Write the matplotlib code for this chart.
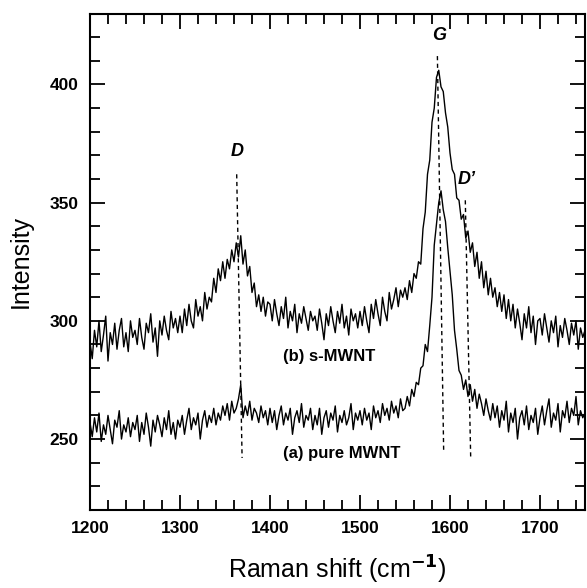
import numpy as np
import matplotlib.pyplot as plt
from matplotlib.ticker import MultipleLocator

# Raman spectra, sampled every 2.5 cm-1 from 1200 to 1750
shift = np.arange(1200, 1750.1, 2.5)

# (b) s-MWNT
smwnt = [
    291, 284, 296, 289, 300, 287, 294, 302, 283, 295, 290, 299, 288, 296, 301, 289, 295, 287, 300, 293,
    296, 290, 301, 293, 288, 299, 295, 303, 291, 297, 285, 300, 294, 302, 296, 292, 304, 297, 301, 295,
    302, 295, 305, 298, 307, 300, 297, 309, 302, 306, 300, 312, 305, 310, 308, 318, 312, 322, 317, 325,
    318, 326, 322, 330, 325, 333, 327, 336, 324, 330, 319, 323, 312, 316, 306, 311, 304, 310, 302, 308,
    307, 300, 309, 303, 298, 306, 301, 310, 297, 304, 300, 307, 295, 303, 299, 306, 301, 296, 304, 300,
    302, 296, 305, 299, 292, 303, 298, 306, 300, 295, 304, 299, 307, 297, 302, 294, 305, 300, 303, 297,
    304, 298, 306, 300, 295, 307, 301, 309, 303, 298, 310, 304, 300, 312, 305, 309, 314, 306, 313, 310,
    314, 309, 317, 312, 320, 318, 325, 324, 339, 346, 362, 368, 384, 390, 403, 406, 399, 397, 388, 382,
    371, 364, 362, 352, 351, 343, 345, 335, 338, 329, 333, 323, 329, 318, 325, 314, 321, 311, 318, 310,
    314, 306, 312, 304, 311, 301, 309, 300, 307, 297, 305, 299, 292, 303, 297, 306, 295, 302, 290, 300,
    301, 294, 303, 297, 291, 300, 295, 302, 289, 298, 293, 301, 296, 290, 299, 294, 300, 288, 297, 293,
    296,
]

# (a) pure MWNT
pmwnt = [
    257, 251, 259, 253, 261, 249, 256, 252, 260, 254, 248, 258, 255, 262, 250, 256, 253, 259, 251, 257,
    254, 260, 249, 257, 252, 261, 255, 247, 258, 253, 260, 256, 251, 259, 254, 262, 252, 257, 250, 258,
    255, 260, 252, 258, 263, 254, 259, 256, 261, 250, 258, 262, 255, 260, 257, 263, 256, 261, 258, 264,
    260, 265, 258, 266, 261, 263, 267, 273, 259, 264, 260, 266, 258, 263, 261, 257, 264, 259, 262, 256,
    263, 257, 262, 254, 260, 264, 256, 261, 258, 263, 252, 259, 262, 257, 265, 255, 260, 258, 263, 254,
    260, 256, 263, 252, 259, 262, 255, 261, 258, 264, 253, 260, 257, 262, 256, 259, 265, 254, 261, 258,
    262, 256, 263, 258, 261, 254, 264, 259, 262, 257, 265, 260, 263, 258, 266, 261, 264, 259, 267, 262,
    263, 268, 264, 271, 268, 274, 273, 280, 281, 290, 287, 298, 310, 332, 341, 350, 355, 347, 342, 331,
    321, 311, 296, 288, 279, 277, 271, 275, 268, 273, 266, 271, 263, 269, 265, 260, 267, 262, 258, 265,
    259, 264, 255, 262, 258, 266, 253, 261, 257, 263, 250, 259, 262, 256, 264, 254, 260, 257, 263, 252,
    259, 264, 256, 262, 267, 255, 261, 258, 265, 253, 262, 259, 266, 257, 263, 260, 268, 256, 262, 259,
    261,
]

# peak markers: label, label position, dashed line ends
peak_labels = ["D", "G", "D\u2019"]
label_xy = [(1363, 368), (1588, 417), (1619, 356)]
line_top = [(1363, 362), (1586, 412), (1617, 351)]
line_bot = [(1369, 242), (1593, 244), (1623, 242)]

plt.rcParams["font.family"] = ["Liberation Sans", "DejaVu Sans"]

fig = plt.figure(figsize=(5.87, 5.88), dpi=100)
ax = fig.add_axes([0.1533, 0.1327, 0.8433, 0.8443])

ax.plot(shift, smwnt, color="black", lw=1.0)
ax.plot(shift, pmwnt, color="black", lw=1.0)

#dashed guide lines and peak names
for lab, (tx, ty), (x0, y0), (x1, y1) in zip(peak_labels, label_xy, line_top, line_bot):
    ax.plot([x0, x1], [y0, y1], color="black", lw=1.0, ls=(0, (3, 2.5)))
    ax.text(tx, ty, lab, fontsize=13, fontweight="bold", fontstyle="italic",
            ha="center", va="bottom")

ax.text(1414, 285, "(b) s-MWNT", fontsize=12, fontweight="bold", va="center")
ax.text(1414, 244, "(a) pure MWNT", fontsize=12, fontweight="bold", va="center")

ax.set_xlim(1200, 1750)
ax.set_ylim(220, 430)
ax.xaxis.set_major_locator(MultipleLocator(100))
ax.xaxis.set_minor_locator(MultipleLocator(20))
ax.yaxis.set_major_locator(MultipleLocator(50))
ax.yaxis.set_minor_locator(MultipleLocator(10))
ax.tick_params(which="both", direction="in", top=True, right=True, width=1.3)
ax.tick_params(which="major", length=11, labelsize=12.5, pad=8)
ax.tick_params(which="minor", length=7)
for lbl in ax.get_xticklabels() + ax.get_yticklabels():
    lbl.set_fontweight("bold")
for sp in ax.spines.values():
    sp.set_linewidth(1.5)

ax.set_xlabel("Raman shift (cm$^{\\mathbf{-1}}$)", fontsize=18, labelpad=13)
ax.set_ylabel("Intensity", fontsize=18, labelpad=12)

plt.savefig("out.png", dpi=100)
